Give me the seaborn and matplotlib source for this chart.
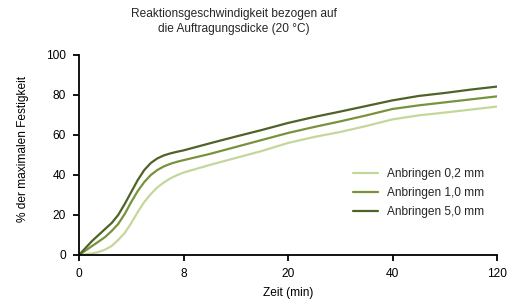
import numpy as np
import pandas as pd
import matplotlib
matplotlib.use("Agg")
import matplotlib.pyplot as plt
import seaborn as sns

# time in minutes (x axis is drawn on equally spaced ticks 0, 8, 20, 40, 120)
zeit = [0, 0.5, 1, 1.5, 2, 2.5, 3, 3.5, 4, 4.5, 5, 5.5, 6, 6.5, 7, 7.5, 8,
        11, 14, 17, 20, 25, 30, 35, 40, 60, 80, 100, 120]

# % of max strength
anbringen_02 = [0, 0.3, 0.8, 1.5, 2.7, 4.5, 7.5, 11, 16, 21.5, 26.5, 30.5, 33.8, 36.3, 38.3, 39.9, 41.2,
                45, 48.5, 52, 56, 59, 61.5, 64.5, 67.8, 69.8, 71.2, 72.7, 74.2]
anbringen_10 = [0, 2.2, 4.5, 6.7, 9, 12, 15.5, 20.5, 26.5, 32, 36.5, 40, 42.5, 44.3, 45.6, 46.6, 47.4,
                50.5, 54, 57.5, 61, 64, 66.8, 69.8, 73, 74.8, 76.3, 77.8, 79.3]
anbringen_50 = [0, 3.5, 7, 10, 13, 16, 20, 25.5, 31.5, 37.5, 42.5, 46, 48.3, 49.8, 50.8, 51.6, 52.3,
                55.8, 59.2, 62.5, 66, 69, 71.7, 74.5, 77.3, 79.5, 81, 82.7, 84.2]

serien = ["Anbringen 0,2 mm", "Anbringen 1,0 mm", "Anbringen 5,0 mm"]
farben = ["#c4d79b", "#77933c", "#4f6228"]

x_ticks = [0, 8, 20, 40, 120]
x_ticklabels = ["0", "8", "20", "40", "120"]

df = pd.concat([
    pd.DataFrame({"zeit": zeit, "wert": werte, "serie": name})
    for name, werte in zip(serien, [anbringen_02, anbringen_10, anbringen_50])
])

sns.set_theme(style="white")
plt.rcParams["font.family"] = ["Liberation Sans", "DejaVu Sans"]
fs = 8.6

fig = plt.figure(figsize=(5.18, 3.04), dpi=100)
ax = fig.add_axes([0.1525, 0.1612, 0.807, 0.658])

# piecewise linear x scale so the tick values sit equally spaced
pos = np.arange(len(x_ticks), dtype=float)
ax.set_xscale("function", functions=(
    lambda v: np.interp(v, x_ticks, pos),
    lambda u: np.interp(u, pos, x_ticks),
))

sns.lineplot(data=df, x="zeit", y="wert", hue="serie", palette=farben,
             linewidth=1.6, ax=ax, legend=True)

ax.set_xlim(0, 120)
ax.set_ylim(0, 100)
ax.set_xticks(x_ticks)
ax.set_xticklabels(x_ticklabels)
ax.set_yticks([0, 20, 40, 60, 80, 100])
ax.minorticks_off()

for s in ["top", "right"]:
    ax.spines[s].set_visible(False)
for s in ["left", "bottom"]:
    ax.spines[s].set_color("black")
    ax.spines[s].set_linewidth(1.3)

ax.tick_params(axis="both", which="major", direction="out", length=4, width=1.3,
               color="black", labelsize=fs, labelcolor="black",
               left=True, bottom=True, pad=5.5)

ax.set_xlabel("Zeit (min)", fontsize=fs, color="black", labelpad=5)
ax.set_ylabel("% der maximalen Festigkeit", fontsize=fs, color="black")
ax.yaxis.set_label_coords(-0.12, 0.53)

fig.text(0.452, 0.975, "Reaktionsgeschwindigkeit bezogen auf\ndie Auftragungsdicke (20 °C)",
         ha="center", va="top", fontsize=fs, linespacing=1.35)

ax.legend(loc="center left", bbox_to_anchor=(0.64, 0.31), frameon=False,
          fontsize=fs, handlelength=2.1, handletextpad=0.75, labelspacing=0.57,
          borderpad=0)

fig.savefig("out.png", dpi=100)
